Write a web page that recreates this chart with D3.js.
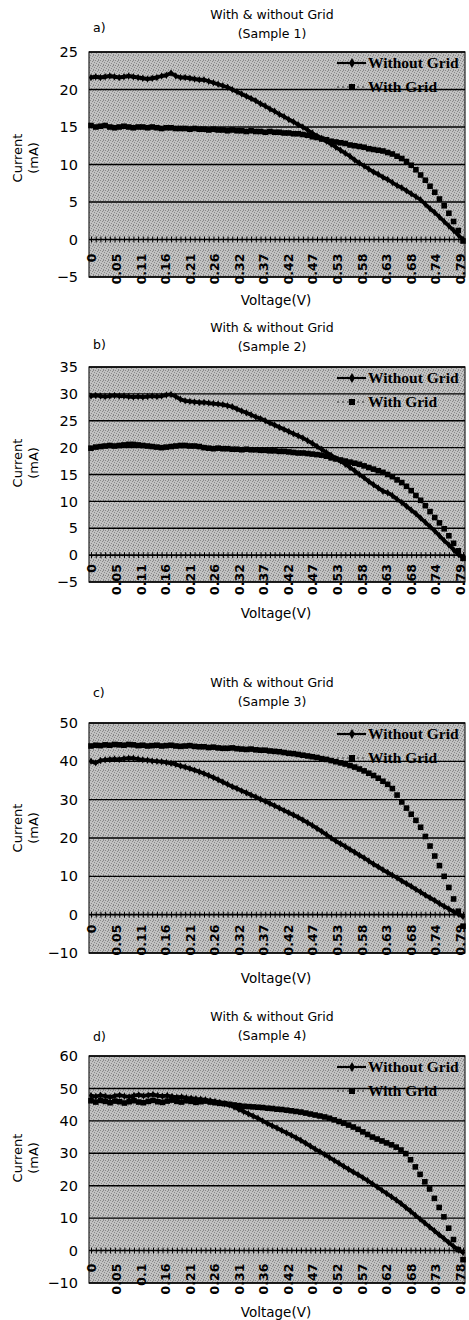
<!DOCTYPE html>
<html>
<head>
<meta charset="utf-8">
<script src="https://cdn.jsdelivr.net/npm/d3@7"></script>
<style>
  body { margin: 0; background: #fff; }
  text { font-family: "DejaVu Sans", sans-serif; fill: #000; }
</style>
</head>
<body>
<div id="chart"></div>
<script>
// voltage categories (V)
const voltsABC = [
  0.00,0.01,0.02,0.03,0.04,0.05,0.06,0.07,0.08,0.09,
  0.10,0.11,0.12,0.13,0.14,0.15,0.16,0.17,0.18,0.19,
  0.20,0.21,0.22,0.23,0.24,0.25,0.26,0.27,0.28,0.29,
  0.30,0.31,0.32,0.33,0.34,0.35,0.36,0.37,0.38,0.39,
  0.40,0.41,0.42,0.43,0.44,0.45,0.46,0.47,0.48,0.49,
  0.50,0.51,0.52,0.53,0.54,0.55,0.56,0.57,0.58,0.59,
  0.60,0.61,0.62,0.63,0.64,0.65,0.66,0.67,0.68,0.69,
  0.70,0.71,0.72,0.73,0.74,0.75,0.76,0.77,0.78,0.79];
const voltsD = [
  0.00,0.01,0.02,0.03,0.04,0.05,0.06,0.07,0.08,0.09,
  0.10,0.11,0.12,0.13,0.14,0.15,0.16,0.17,0.18,0.19,
  0.20,0.21,0.22,0.23,0.24,0.25,0.26,0.27,0.28,0.29,
  0.30,0.31,0.32,0.33,0.34,0.35,0.36,0.37,0.38,0.39,
  0.40,0.41,0.42,0.43,0.44,0.45,0.46,0.47,0.48,0.49,
  0.50,0.51,0.52,0.53,0.54,0.55,0.56,0.57,0.58,0.59,
  0.60,0.61,0.62,0.63,0.64,0.65,0.66,0.67,0.68,0.69,
  0.70,0.71,0.72,0.73,0.74,0.75,0.76,0.77,0.78];

// current (mA), sample 1
const withoutGrid1 = [
  21.6,21.7,21.6,21.7,21.8,21.7,21.6,21.7,21.8,21.7,
  21.6,21.5,21.4,21.5,21.6,21.8,21.9,22.2,21.8,21.6,
  21.6,21.5,21.4,21.3,21.3,21.1,20.9,20.7,20.5,20.3,
  20.0,19.7,19.4,19.1,18.8,18.5,18.1,17.8,17.4,17.1,
  16.7,16.4,16.0,15.7,15.3,15.0,14.6,14.2,13.8,13.5,
  13.1,12.7,12.3,11.9,11.5,11.1,10.6,10.2,9.8,9.4,
  9.0,8.7,8.3,8.0,7.6,7.2,6.9,6.5,6.1,5.7,
  5.3,4.7,4.1,3.6,3.0,2.4,1.8,1.2,0.6,0.0];
const withGrid1 = [
  15.2,15.0,15.1,15.2,15.0,14.9,15.0,15.1,15.0,14.9,
  15.0,15.0,14.9,15.0,14.9,14.8,14.9,14.9,14.8,14.8,
  14.8,14.7,14.8,14.7,14.7,14.6,14.7,14.6,14.6,14.5,
  14.6,14.5,14.5,14.4,14.5,14.4,14.4,14.3,14.4,14.3,
  14.3,14.2,14.2,14.1,14.1,14.0,13.9,13.7,13.6,13.4,
  13.3,13.1,13.0,12.9,12.8,12.6,12.5,12.4,12.3,12.1,
  12.0,11.9,11.8,11.6,11.4,11.1,10.8,10.4,9.9,9.3,
  8.6,7.9,7.1,6.3,5.4,4.5,3.5,2.4,1.2,-0.2];

// sample 2
const withoutGrid2 = [
  29.6,29.7,29.6,29.5,29.6,29.7,29.6,29.6,29.5,29.4,
  29.5,29.4,29.5,29.6,29.5,29.6,29.8,29.9,29.5,29.0,
  28.7,28.6,28.5,28.4,28.4,28.3,28.2,28.1,28.0,27.8,
  27.6,27.2,26.8,26.5,26.1,25.7,25.4,25.0,24.6,24.2,
  23.8,23.4,23.0,22.6,22.2,21.8,21.3,20.8,20.2,19.7,
  19.1,18.6,18.0,17.5,16.9,16.3,15.7,15.0,14.4,13.7,
  13.1,12.5,11.9,11.6,11.1,10.4,9.8,9.1,8.4,7.7,
  6.9,6.1,5.3,4.5,3.6,2.7,1.9,1.0,0.2,-0.5];
const withGrid2 = [
  19.9,20.1,20.2,20.3,20.4,20.3,20.4,20.5,20.6,20.6,
  20.5,20.4,20.3,20.2,20.1,20.0,20.1,20.2,20.3,20.4,
  20.4,20.3,20.3,20.2,20.0,19.9,19.8,19.9,19.8,19.8,
  19.7,19.7,19.6,19.7,19.6,19.6,19.5,19.5,19.4,19.4,
  19.3,19.3,19.2,19.1,19.0,19.0,18.9,18.8,18.7,18.6,
  18.4,18.1,17.9,17.7,17.5,17.3,17.1,16.9,16.6,16.3,
  16.0,15.7,15.4,15.0,14.6,14.0,13.5,12.8,12.0,11.1,
  10.2,9.2,8.1,7.0,6.0,4.9,3.6,2.2,0.8,-0.6];

// sample 3
const withoutGrid3 = [
  40.0,39.6,40.2,40.4,40.5,40.6,40.5,40.7,40.8,40.8,
  40.6,40.4,40.3,40.1,40.0,39.9,39.7,39.5,39.2,38.8,
  38.5,38.1,37.7,37.3,36.8,36.3,35.8,35.2,34.6,34.0,
  33.4,32.9,32.3,31.8,31.2,30.7,30.1,29.6,29.0,28.4,
  27.8,27.2,26.6,26.0,25.4,24.7,24.0,23.3,22.5,21.7,
  20.9,20.0,19.2,18.5,17.8,17.0,16.3,15.5,14.8,14.0,
  13.2,12.5,11.7,11.0,10.3,9.6,8.8,8.1,7.4,6.6,
  5.9,5.1,4.4,3.7,2.9,2.2,1.5,0.8,0.2,-0.5];
const withGrid3 = [
  44.0,44.2,44.1,44.3,44.2,44.4,44.3,44.2,44.4,44.3,
  44.1,44.2,44.0,44.1,44.2,44.0,44.1,44.2,44.0,43.9,
  44.0,44.1,43.9,43.8,43.8,43.6,43.7,43.5,43.4,43.4,
  43.5,43.3,43.2,43.1,43.2,43.0,42.9,42.9,42.7,42.6,
  42.5,42.3,42.1,42.0,41.8,41.6,41.4,41.2,41.0,40.7,
  40.5,40.2,39.9,39.6,39.3,38.9,38.5,38.0,37.5,36.9,
  36.3,35.6,34.8,34.0,32.9,31.2,29.4,27.8,26.2,24.6,
  22.8,20.4,17.9,15.3,12.8,10.0,7.1,4.1,0.9,-3.0];

// sample 4
const withoutGrid4 = [
  47.8,47.5,47.9,47.6,47.3,47.7,47.9,47.6,47.4,47.8,
  48.0,47.7,47.9,48.1,47.8,47.6,47.8,47.5,47.3,47.4,
  47.1,47.0,46.8,46.7,46.5,46.2,46.0,45.7,45.3,44.9,
  44.3,43.6,42.9,42.2,41.5,40.8,40.0,39.2,38.5,37.8,
  37.0,36.3,35.6,34.8,34.0,33.1,32.2,31.3,30.5,29.6,
  28.7,27.8,26.9,26.0,25.1,24.2,23.4,22.5,21.6,20.6,
  19.6,18.6,17.6,16.6,15.6,14.5,13.3,12.1,10.9,9.7,
  8.5,7.3,6.1,4.9,3.7,2.5,1.3,0.3,-0.6];
const withGrid4 = [
  46.2,45.8,46.3,46.0,45.6,46.1,45.9,45.5,45.9,46.2,
  45.8,45.6,46.0,46.3,45.9,45.7,46.1,46.4,46.0,45.8,
  46.2,46.0,45.7,45.9,46.1,45.8,45.6,45.4,45.3,45.1,
  44.9,44.7,44.5,44.4,44.3,44.2,44.1,43.9,43.8,43.6,
  43.5,43.3,43.1,42.9,42.7,42.4,42.1,41.8,41.5,41.2,
  40.8,40.3,39.8,39.3,38.7,38.1,37.4,36.6,35.8,35.0,
  34.4,33.8,33.2,32.6,31.9,31.0,29.9,28.0,25.8,23.5,
  21.2,19.0,16.1,13.3,10.4,6.9,3.4,0.3,-2.8];

// category labels
const xLabelsABC = ["0","0.05","0.11","0.16","0.21","0.26","0.32","0.37","0.42","0.47","0.53","0.58","0.63","0.68","0.74","0.79"];
const xLabelsD = ["0","0.05","0.1","0.16","0.21","0.26","0.31","0.36","0.42","0.47","0.52","0.57","0.62","0.68","0.73","0.78"];

// value axis ticks
const yTicks1 = [-5,0,5,10,15,20,25];
const yTicks2 = [-5,0,5,10,15,20,25,30,35];
const yTicks3 = [-10,0,10,20,30,40,50];
const yTicks4 = [-10,0,10,20,30,40,50,60];

const seriesNames = ["Without Grid", "With Grid"];
const samples = ["Sample 1", "Sample 2", "Sample 3", "Sample 4"];
const letters = ["a)", "b)", "c)", "d)"];

// layout of the four stacked charts
const panels = [
  {volts: voltsABC, without: withoutGrid1, with: withGrid1, labels: xLabelsABC, ticks: yTicks1,
   top: 52, bottom: 277, titleY: 15, letterY: 28, labelOff: 14, xTitleY: 300, yTitleY: 158},
  {volts: voltsABC, without: withoutGrid2, with: withGrid2, labels: xLabelsABC, ticks: yTicks2,
   top: 367, bottom: 582, titleY: 328, letterY: 345, labelOff: 9, xTitleY: 613, yTitleY: 463},
  {volts: voltsABC, without: withoutGrid3, with: withGrid3, labels: xLabelsABC, ticks: yTicks3,
   top: 723, bottom: 953, titleY: 683, letterY: 693, labelOff: 10, xTitleY: 978, yTitleY: 828},
  {volts: voltsD, without: withoutGrid4, with: withGrid4, labels: xLabelsD, ticks: yTicks4,
   top: 1056, bottom: 1283, titleY: 1017, letterY: 1037, labelOff: 13, xTitleY: 1312, yTitleY: 1158}
];

const plotLeft = 89, plotRight = 465;

const svg = d3.select('#chart').append('svg')
    .attr('width', 469)
    .attr('height', 1320);

// stippled grey like the printed plot area
const pat = svg.append('defs').append('pattern')
    .attr('id', 'stipple')
    .attr('width', 5).attr('height', 5)
    .attr('patternUnits', 'userSpaceOnUse');
pat.append('rect').attr('width', 5).attr('height', 5).attr('fill', '#c2c2c2');
[[0,0],[2,1],[4,2],[1,3],[3,4],[3,0]].forEach(p =>
    pat.append('rect').attr('x', p[0]).attr('y', p[1]).attr('width', 1).attr('height', 1).attr('fill', '#8a8a8a'));

panels.forEach((p, k) => {
    const g = svg.append('g');
    const vmax = p.volts[p.volts.length - 1];

    const x = d3.scaleLinear().domain([0, vmax]).range([91, 463]);
    const y = d3.scaleLinear().domain(d3.extent(p.ticks)).range([p.bottom, p.top]);
    // labels sit every few categories, evenly spread like the spreadsheet axis
    const xl = d3.scalePoint().domain(p.labels).range([92, 460.5]);

    g.append('rect')
        .attr('x', plotLeft).attr('y', p.top)
        .attr('width', plotRight - plotLeft).attr('height', p.bottom - p.top)
        .attr('fill', 'url(#stipple)')
        .attr('stroke', '#222')
        .attr('stroke-width', 1.2);

    // gridlines
    g.append('g').selectAll('line')
        .data(p.ticks.filter(t => t !== 0))
        .enter().append('line')
        .attr('x1', plotLeft).attr('x2', plotRight)
        .attr('y1', d => y(d)).attr('y2', d => y(d))
        .attr('stroke', '#000')
        .attr('stroke-width', 1.4);

    // value axis labels
    g.append('g')
        .attr('transform', `translate(${plotLeft},0)`)
        .call(d3.axisLeft(y).tickValues(p.ticks).tickSize(0).tickPadding(11))
        .call(a => a.select('.domain').remove())
        .selectAll('text')
        .style('font-size', '14.5px')
        .style('font-family', '"DejaVu Sans", sans-serif');

    // category axis crossing at 0, one tick per point
    const y0 = y(0);
    g.append('g')
        .attr('transform', `translate(0,${y0 - 3})`)
        .call(d3.axisBottom(x).tickValues(p.volts).tickSize(6).tickSizeOuter(0).tickFormat(''))
        .call(a => a.select('.domain').remove())
        .selectAll('line').attr('stroke', '#000').attr('stroke-width', 1);
    g.append('line')
        .attr('x1', plotLeft).attr('x2', plotRight)
        .attr('y1', y0).attr('y2', y0)
        .attr('stroke', '#000').attr('stroke-width', 1.6);

    g.append('g').selectAll('text')
        .data(p.labels)
        .enter().append('text')
        .attr('transform', d => `translate(${xl(d)},${y0 + p.labelOff}) rotate(-90)`)
        .attr('text-anchor', 'end')
        .attr('dy', '0.35em')
        .style('font-size', '12.5px')
        .style('font-weight', 'bold')
        .text(d => d);

    // series
    const line = d3.line()
        .x((d, i) => x(p.volts[i]))
        .y(d => y(d));

    g.append('path')
        .datum(p.without)
        .attr('d', line)
        .attr('fill', 'none')
        .attr('stroke', '#000')
        .attr('stroke-width', 3.8)
        .attr('stroke-linejoin', 'round');

    g.append('g').selectAll('path')
        .data(p.without)
        .enter().append('path')
        .attr('transform', (d, i) => `translate(${x(p.volts[i])},${y(d)})`)
        .attr('d', d3.symbol().type(d3.symbolDiamond).size(16))
        .attr('fill', '#000');

    g.append('g').selectAll('rect')
        .data(p.with)
        .enter().append('rect')
        .attr('x', (d, i) => x(p.volts[i]) - 2.8)
        .attr('y', d => y(d) - 2.8)
        .attr('width', 5.6).attr('height', 5.6)
        .attr('fill', '#000');

    // legend
    const leg = g.append('g');
    const legY = [p.top + 11, p.top + 35];
    leg.append('line')
        .attr('x1', 337).attr('x2', 366)
        .attr('y1', legY[0]).attr('y2', legY[0])
        .attr('stroke', '#000').attr('stroke-width', 2.2);
    leg.append('path')
        .attr('transform', `translate(352,${legY[0]})`)
        .attr('d', d3.symbol().type(d3.symbolDiamond).size(30))
        .attr('fill', '#000');
    leg.append('line')
        .attr('x1', 337).attr('x2', 366)
        .attr('y1', legY[1]).attr('y2', legY[1])
        .attr('stroke', '#333').attr('stroke-width', 1)
        .attr('stroke-dasharray', '2,3');
    leg.append('rect')
        .attr('x', 349).attr('y', legY[1] - 3)
        .attr('width', 6).attr('height', 6)
        .attr('fill', '#000');
    leg.selectAll('text')
        .data(seriesNames)
        .enter().append('text')
        .attr('x', 368)
        .attr('y', (d, i) => legY[i])
        .attr('dy', '0.35em')
        .style('font-family', '"Liberation Serif", "Times New Roman", serif')
        .style('font-weight', 'bold')
        .style('font-size', '15.5px')
        .text(d => d);

    // titles
    g.append('text')
        .attr('x', 272).attr('y', p.titleY)
        .attr('text-anchor', 'middle').attr('dy', '0.35em')
        .style('font-size', '12.5px')
        .text('With & without Grid');
    g.append('text')
        .attr('x', 272).attr('y', p.titleY + 19)
        .attr('text-anchor', 'middle').attr('dy', '0.35em')
        .style('font-size', '12.5px')
        .text(`(${samples[k]})`);
    g.append('text')
        .attr('x', 93).attr('y', p.letterY)
        .attr('dy', '0.35em')
        .style('font-size', '12.5px')
        .text(letters[k]);

    g.append('text')
        .attr('x', 276).attr('y', p.xTitleY)
        .attr('text-anchor', 'middle').attr('dy', '0.35em')
        .style('font-size', '13.5px')
        .text('Voltage(V)');

    const yt = g.append('text')
        .attr('transform', `translate(22,${p.yTitleY}) rotate(-90)`)
        .attr('text-anchor', 'middle')
        .style('font-size', '13px');
    yt.append('tspan').attr('x', 0).attr('dy', '0em').text('Current');
    yt.append('tspan').attr('x', 0).attr('dy', '1.25em').text('(mA)');
});
</script>
</body>
</html>
